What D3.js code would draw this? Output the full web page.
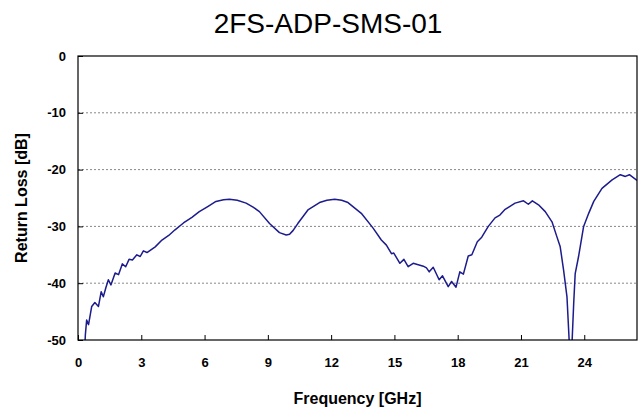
<!DOCTYPE html>
<html>
<head>
<meta charset="utf-8">
<script src="https://cdn.jsdelivr.net/npm/d3@7"></script>
<style>
  body { margin: 0; background: #fff; }
  svg { display: block; }
</style>
</head>
<body>
<div class="canvas"></div>
<script>
// DATA ------------------------------------------------------------------------
const chartTitle = '2FS-ADP-SMS-01';
const xTicks = [0, 3, 6, 9, 12, 15, 18, 21, 24];
const yTicks = [0, -10, -20, -30, -40, -50];

// frequency in GHz
const freq = [0.30, 0.35, 0.41, 0.50, 0.65, 0.80, 0.97, 1.10, 1.20, 1.32, 1.44, 1.56, 1.76, 1.92,
  2.10, 2.26, 2.42, 2.58, 2.79, 2.95, 3.10, 3.27, 3.66, 3.98, 4.30, 4.60, 5.00, 5.40, 5.75,
  6.15, 6.54, 6.90, 7.18, 7.55, 7.97, 8.30, 8.60, 9.08, 9.55, 9.87, 10.03, 10.20, 10.42,
  10.90, 11.45, 11.80, 12.17, 12.50, 12.80, 13.43, 13.99, 14.38, 14.62, 14.86, 14.97, 15.26,
  15.45, 15.65, 15.89, 16.37, 16.52, 16.65, 16.84, 17.12, 17.28, 17.55, 17.71, 17.92, 18.10,
  18.27, 18.50, 18.67, 18.93, 19.14, 19.45, 19.77, 20.00, 20.25, 20.72, 21.12, 21.35, 21.54,
  21.83, 22.15, 22.47, 22.70, 22.86, 23.02, 23.18, 23.29, 23.36, 23.42, 23.50, 23.57, 23.73,
  23.97, 24.21, 24.45, 24.84, 25.32, 25.71, 25.95, 26.14, 26.50];

// return loss in dB
const returnLoss = [-53, -49, -46.5, -47.3, -44.1, -43.4, -44.1, -41.5, -42.4, -40.8, -39.4, -40.3, -38.2, -38.5,
  -36.6, -37.1, -35.8, -35.9, -35.0, -35.3, -34.3, -34.6, -33.6, -32.4, -31.6, -30.6, -29.4, -28.4, -27.4,
  -26.5, -25.6, -25.3, -25.2, -25.4, -25.9, -26.6, -27.4, -29.5, -31.1, -31.5, -31.4, -30.7, -29.5,
  -27.1, -25.8, -25.4, -25.2, -25.4, -25.8, -27.7, -30.3, -32.4, -33.3, -34.8, -34.7, -36.5,
  -35.8, -37.1, -36.5, -37.0, -37.3, -38.0, -37.2, -39.4, -38.7, -40.6, -39.7, -40.7, -38.0,
  -38.4, -35.2, -35.0, -32.7, -31.9, -30.0, -28.5, -28.0, -27.0, -25.9, -25.5, -26.1, -25.5,
  -26.2, -27.4, -29.2, -31.8, -33.6, -37.7, -42.4, -50.5, -56, -50.5, -43.5, -38.3, -35.3,
  -30.0, -27.7, -25.6, -23.3, -21.8, -20.9, -21.2, -20.9, -21.9];

// SET UP GRAPH ----------------------------------------------------------------
const width = 642, height = 408;
const margin = { top: 56, right: 5, bottom: 68, left: 78 };
const graphWidth = width - margin.left - margin.right;
const graphHeight = height - margin.top - margin.bottom;

const svg = d3.select('.canvas')
  .append('svg')
    .attr('width', width)
    .attr('height', height);

const graph = svg.append('g')
  .attr('transform', `translate(${margin.left}, ${margin.top})`);

const x = d3.scaleLinear().domain([0, 26.5]).range([0, graphWidth]);
const y = d3.scaleLinear().domain([-50, 0]).range([graphHeight, 0]);

// dotted gridlines
graph.selectAll('line.grid')
  .data(yTicks.filter(d => d !== 0 && d !== -50))
  .enter().append('line')
    .attr('class', 'grid')
    .attr('x1', 0).attr('x2', graphWidth)
    .attr('y1', d => y(d)).attr('y2', d => y(d))
    .attr('stroke', '#888')
    .attr('stroke-width', 1)
    .attr('stroke-dasharray', '2,2');

// clip curve to plot area
svg.append('defs').append('clipPath').attr('id', 'clip')
  .append('rect').attr('width', graphWidth).attr('height', graphHeight);

const line = d3.line()
  .x((d, i) => x(freq[i]))
  .y(d => y(d));

graph.append('path')
  .datum(returnLoss)
  .attr('clip-path', 'url(#clip)')
  .attr('d', line)
  .attr('fill', 'none')
  .attr('stroke', '#1c1c8c')
  .attr('stroke-width', 1.5)
  .attr('stroke-linejoin', 'round');

// axes with inward ticks, plain hyphen for negatives
const xAxis = d3.axisBottom(x).tickValues(xTicks).tickFormat(d => String(d))
  .tickSizeInner(-5).tickSizeOuter(0).tickPadding(18);
const yAxis = d3.axisLeft(y).tickValues(yTicks).tickFormat(d => String(d))
  .tickSizeInner(-5).tickSizeOuter(0).tickPadding(12);

const xAxisGroup = graph.append('g')
  .attr('transform', `translate(0, ${graphHeight})`)
  .call(xAxis);
const yAxisGroup = graph.append('g').call(yAxis);

[xAxisGroup, yAxisGroup].forEach(g => {
  g.select('.domain').remove();
  g.selectAll('line').attr('stroke', '#000');
  g.selectAll('text')
    .attr('fill', '#000')
    .style('font', 'bold 13px "Liberation Sans", Arial, sans-serif');
});

// frame
graph.append('rect')
  .attr('width', graphWidth)
  .attr('height', graphHeight)
  .attr('fill', 'none')
  .attr('stroke', '#000')
  .attr('stroke-width', 1.2);

// titles
svg.append('text')
  .attr('text-anchor', 'middle')
  .attr('x', 328)
  .attr('y', 33)
  .text(chartTitle)
  .style('font', '28px "Liberation Sans", Arial, sans-serif')
  .attr('fill', '#000');

svg.append('text')
  .attr('text-anchor', 'middle')
  .attr('x', margin.left + graphWidth / 2)
  .attr('y', 404)
  .text('Frequency [GHz]')
  .style('font', 'bold 16px "Liberation Sans", Arial, sans-serif')
  .attr('fill', '#000');

svg.append('text')
  .attr('text-anchor', 'middle')
  .attr('transform', `translate(27, ${margin.top + graphHeight / 2}) rotate(-90)`)
  .text('Return Loss [dB]')
  .style('font', 'bold 16px "Liberation Sans", Arial, sans-serif')
  .attr('fill', '#000');
</script>
</body>
</html>
